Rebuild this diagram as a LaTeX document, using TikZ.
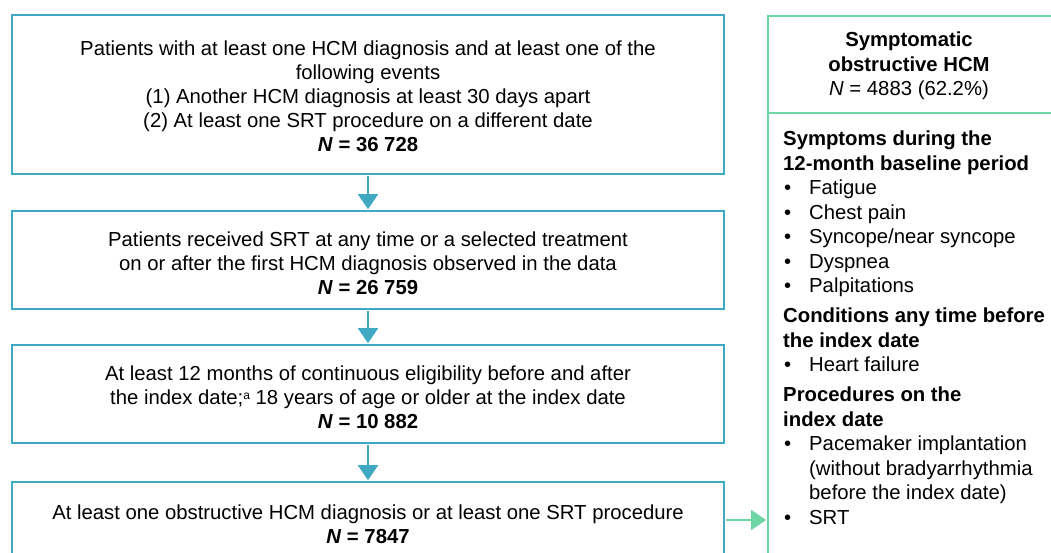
\documentclass[tikz,border=0pt]{standalone}
\usepackage{fontspec}
\setmainfont{Liberation Sans}
\usetikzlibrary{arrows.meta}
\definecolor{flowblue}{HTML}{3FA9C3}
\definecolor{flowgreen}{HTML}{6ED5A6}
\newcommand{\flowfont}{\fontsize{20.3}{24}\selectfont}
\newcommand{\panelfont}{\fontsize{20.3}{24.5}\selectfont}
\newcommand{\bul}{\makebox[26pt][l]{\hspace{1pt}\textbullet}}
\newcommand{\ind}{\hspace*{26pt}}
\begin{document}
\begin{tikzpicture}[x=1pt,y=-1pt,
  box/.style={draw=flowblue, line width=1.8pt, minimum width=712pt, inner sep=0pt},
  boxtext/.style={align=center, inner sep=0pt, font=\flowfont},
  panelbox/.style={draw=flowgreen, line width=1.8pt, minimum width=292pt, minimum height=560pt, inner sep=0pt},
  down/.style={draw=flowblue, line width=1.8pt, -{Triangle[width=20pt,length=15pt]}, shorten <=0.9pt, shorten >=0.9pt},
  side/.style={draw=flowgreen, line width=1.8pt, -{Triangle[width=20pt,length=15pt]}, shorten <=0.9pt, shorten >=0.9pt},
  paneltext/.style={inner sep=0pt, font=\panelfont}]
\useasboundingbox (0,0) rectangle (1051,553);
\fill[white] (0,0) rectangle (1051,553);
\node[box, minimum height=159pt] (b1) at (368,94.5) {};
\node[boxtext] (t1) at ([yshift=-1.5pt]b1.center) {Patients with at least one HCM diagnosis and at least one of the\\ following events\\ (1) Another HCM diagnosis at least 30 days apart\\ (2) At least one SRT procedure on a different date\\ \textbf{\textit{N} = 36 728}};
\node[box, minimum height=98pt] (b2) at (368,260) {};
\node[boxtext] (t2) at ([yshift=-3.5pt]b2.center) {Patients received SRT at any time or a selected treatment\\ on or after the first HCM diagnosis observed in the data\\ \textbf{\textit{N} = 26 759}};
\node[box, minimum height=98pt] (b3) at (368,394) {};
\node[boxtext] (t3) at ([yshift=-3.5pt]b3.center) {At least 12 months of continuous eligibility before and after\\ the index date;{\fontsize{12}{12}\selectfont\raisebox{5pt}{a}} 18 years of age or older at the index date\\ \textbf{\textit{N} = 10 882}};
\node[box, minimum height=76pt] (b4) at (368,520) {};
\node[boxtext] (t4) at ([yshift=-4pt]b4.center) {At least one obstructive HCM diagnosis or at least one SRT procedure\\ \textbf{\textit{N} = 7847}};
\node[panelbox, anchor=north west] (panel) at (767,15) {};
\draw[flowgreen, line width=1.8pt] (panel.west |- 0,113) -- (panel.east |- 0,113);
\node[paneltext, align=center] (title) at (909,66) {\textbf{Symptomatic}\\ \textbf{obstructive HCM}\\ \textit{N} = 4883 (62.2\%)};
\node[paneltext, align=left, anchor=north west] (list) at (783,131) {\textbf{Symptoms during the}\\
\textbf{12-month baseline period}\\
\bul Fatigue\\
\bul Chest pain\\
\bul Syncope/near syncope\\
\bul Dyspnea\\
\bul Palpitations\\[5.5pt]
\textbf{Conditions any time before}\\
\textbf{the index date}\\
\bul Heart failure\\[5.5pt]
\textbf{Procedures on the}\\
\textbf{index date}\\
\bul Pacemaker implantation\\
\ind (without bradyarrhythmia\\
\ind before the index date)\\
\bul SRT};
\draw[down] (b1) -- (b2);
\draw[down] (b2) -- (b3);
\draw[down] (b3) -- (b4);
\draw[side] (b4.east) -- (b4.east -| panel.west);
\end{tikzpicture}
\end{document}
